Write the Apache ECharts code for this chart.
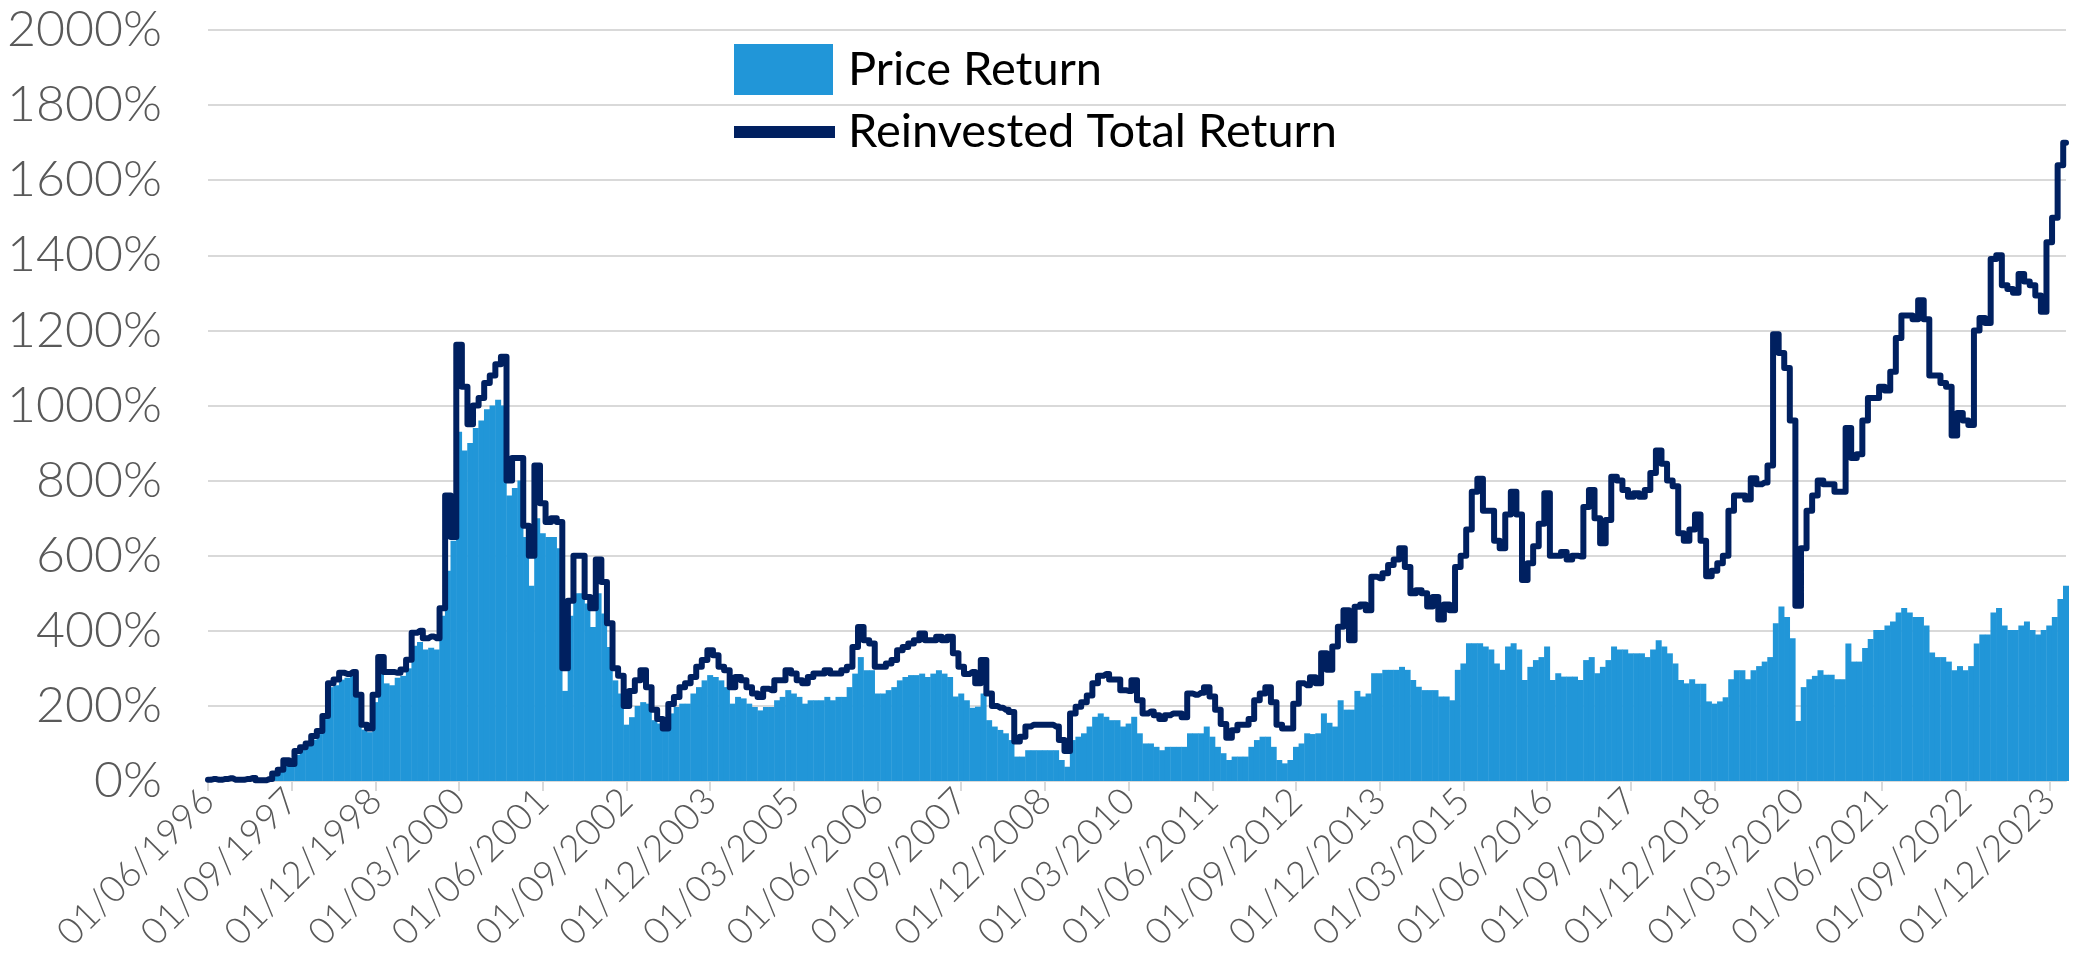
<!DOCTYPE html>
<html>
<head>
<meta charset="utf-8">
<title>Price Return vs Reinvested Total Return</title>
<script src="https://cdn.jsdelivr.net/npm/echarts@6.0.0/dist/echarts.min.js"></script>
<style>
  html, body { margin: 0; padding: 0; background: #ffffff; }
  #chart { width: 2080px; height: 976px; }
</style>
</head>
<body>
<div id="chart"></div>
<script>
// Monthly observations, June 1996 to March 2024 (cumulative return, %)
const startYear = 1996;
const startMonth = 6;
const monthCount = 334;

// Axis labels shown every 15 months
const tickLabels = [
  '01/06/1996', '01/09/1997', '01/12/1998', '01/03/2000', '01/06/2001', '01/09/2002',
  '01/12/2003', '01/03/2005', '01/06/2006', '01/09/2007', '01/12/2008', '01/03/2010',
  '01/06/2011', '01/09/2012', '01/12/2013', '01/03/2015', '01/06/2016', '01/09/2017',
  '01/12/2018', '01/03/2020', '01/06/2021', '01/09/2022', '01/12/2023'
];
const tickStep = 15;

const yTicks = { min: 0, max: 2000, step: 200 };

// Price return, one value per month
const priceReturn = [
  2, 4, 2, 4, 6, 2, 2,                                        // 1996
  4, 6, 1, 1, 4, 15, 25, 45, 40, 70, 85, 95,                  // 1997
  110, 125, 165, 250, 255, 270, 275, 280, 225, 137, 130, 210, // 1998
  300, 260, 255, 275, 280, 300, 360, 370, 350, 355, 350, 440, // 1999
  560, 640, 930, 880, 900, 940, 960, 990, 1000, 1015, 1000, 760, // 2000
  780, 800, 650, 520, 700, 660, 650, 650, 620, 240, 440, 500, // 2001
  500, 473, 410, 500, 446, 357, 268, 233, 150, 170, 200, 210, // 2002
  206, 162, 153, 135, 180, 197, 206, 206, 233, 250, 268, 282, // 2003
  277, 268, 250, 206, 224, 220, 206, 197, 188, 197, 197, 215, // 2004
  224, 242, 233, 224, 206, 215, 215, 215, 224, 215, 224, 224, // 2005
  250, 286, 330, 295, 295, 233, 233, 242, 250, 268, 277, 282, // 2006
  282, 286, 277, 286, 295, 286, 277, 225, 233, 215, 195, 198, // 2007
  233, 162, 145, 136, 127, 109, 65, 65, 82, 82, 82, 82,       // 2008
  82, 82, 56, 38, 109, 118, 127, 145, 171, 180, 171, 162,     // 2009
  162, 145, 153, 171, 127, 100, 100, 91, 82, 91, 91, 91,      // 2010
  91, 127, 127, 127, 145, 118, 91, 74, 56, 65, 65, 65,        // 2011
  91, 109, 118, 118, 91, 56, 47, 56, 91, 100, 127, 125,       // 2012
  127, 180, 155, 145, 215, 190, 190, 240, 225, 233, 287, 287, // 2013
  296, 296, 296, 304, 296, 269, 251, 242, 242, 242, 225, 225, // 2014
  215, 296, 313, 367, 367, 367, 358, 350, 313, 296, 358, 367, // 2015
  350, 269, 304, 322, 330, 358, 269, 287, 278, 278, 278, 269, // 2016
  322, 330, 287, 304, 322, 358, 350, 350, 340, 340, 340, 330, // 2017
  350, 375, 358, 340, 313, 269, 260, 271, 259, 259, 212, 206, // 2018
  212, 223, 271, 295, 295, 271, 295, 306, 318, 330, 420, 465, // 2019
  437, 380, 160, 250, 271, 280, 295, 283, 283, 271, 271, 366, // 2020
  318, 318, 354, 378, 402, 402, 414, 425, 449, 461, 449, 437, // 2021
  437, 414, 342, 330, 330, 318, 295, 306, 295, 306, 366, 390, // 2022
  390, 449, 461, 414, 402, 402, 414, 425, 402, 390, 402, 414, // 2023
  437, 485, 520                                               // 2024
];

// Total return with dividends reinvested, one value per month
const totalReturn = [
  3, 5, 3, 5, 7, 3, 3,                                        // 1996
  5, 8, 2, 2, 5, 20, 30, 55, 45, 80, 90, 100,                 // 1997
  120, 133, 173, 260, 270, 288, 285, 290, 230, 150, 140, 230, // 1998
  330, 290, 290, 288, 297, 323, 395, 400, 380, 385, 380, 460, // 1999
  760, 650, 1162, 1050, 950, 1000, 1020, 1060, 1080, 1110, 1130, 800, // 2000
  860, 860, 680, 600, 840, 740, 690, 700, 690, 300, 480, 600, // 2001
  600, 490, 460, 590, 530, 420, 300, 280, 200, 240, 268, 295, // 2002
  250, 190, 165, 140, 205, 224, 250, 260, 277, 304, 322, 348, // 2003
  335, 304, 295, 250, 277, 268, 250, 233, 224, 246, 242, 268, // 2004
  268, 295, 286, 268, 260, 277, 286, 286, 295, 286, 286, 295, // 2005
  304, 357, 410, 375, 366, 304, 304, 313, 322, 348, 357, 366, // 2006
  375, 393, 375, 375, 384, 375, 384, 340, 304, 285, 290, 260, // 2007
  322, 233, 200, 195, 190, 184, 105, 118, 145, 150, 150, 150, // 2008
  150, 145, 109, 80, 180, 198, 210, 228, 260, 280, 285, 270,  // 2009
  270, 242, 240, 268, 215, 180, 185, 175, 165, 175, 180, 180, // 2010
  170, 233, 230, 235, 250, 225, 190, 152, 115, 135, 150, 150, // 2011
  165, 215, 233, 250, 210, 150, 140, 140, 206, 260, 255, 276, // 2012
  260, 340, 296, 358, 411, 455, 375, 464, 470, 455, 544, 540, // 2013
  553, 575, 590, 620, 570, 500, 508, 500, 465, 490, 430, 470, // 2014
  455, 570, 600, 670, 770, 805, 720, 720, 640, 620, 710, 770, // 2015
  710, 535, 580, 625, 685, 766, 600, 600, 610, 590, 600, 598, // 2016
  730, 775, 700, 633, 695, 810, 800, 775, 757, 766, 757, 775, // 2017
  820, 880, 845, 800, 785, 660, 640, 670, 710, 640, 545, 560, // 2018
  580, 600, 720, 760, 760, 750, 806, 790, 795, 840, 1190, 1140, // 2019
  1100, 960, 467, 620, 720, 760, 800, 790, 790, 770, 770, 940, // 2020
  860, 870, 960, 1020, 1020, 1050, 1040, 1090, 1180, 1240, 1240, 1230, // 2021
  1280, 1230, 1080, 1080, 1060, 1050, 920, 980, 960, 948, 1200, 1233, // 2022
  1220, 1390, 1400, 1320, 1310, 1300, 1350, 1330, 1320, 1293, 1250, 1435, // 2023
  1500, 1640, 1700                                            // 2024
];

// Month categories, dd/mm/yyyy
const months = [];
for (let i = 0; i < monthCount; i++) {
  const m0 = startMonth - 1 + i;
  const y = startYear + Math.floor(m0 / 12);
  const m = (m0 % 12) + 1;
  months.push('01/' + String(m).padStart(2, '0') + '/' + y);
}

const axisFont = 'Lato, "DejaVu Sans", sans-serif';
const gridGrey = '#d9d9d9';

const chart = echarts.init(document.getElementById('chart'), null, { renderer: 'canvas' });

chart.setOption({
  animation: false,
  backgroundColor: '#ffffff',
  grid: { left: 208, right: 14, top: 30, bottom: 195, containLabel: false },
  legend: [
    {
      data: ['Price Return'],
      left: 734, top: 44, padding: 0,
      icon: 'rect', itemWidth: 99, itemHeight: 51,
      selectedMode: false,
      textStyle: { fontFamily: axisFont, fontSize: 47, color: '#000000', lineHeight: 50, padding: [0, 0, 0, 10] }
    },
    {
      data: ['Reinvested Total Return'],
      left: 734, top: 107, padding: 0,
      icon: 'rect', itemWidth: 101, itemHeight: 12,
      selectedMode: false,
      textStyle: { fontFamily: axisFont, fontSize: 47, color: '#000000', lineHeight: 50, padding: [0, 0, 0, 8] }
    }
  ],
  xAxis: {
    type: 'category',
    data: months,
    boundaryGap: false,
    axisLine: { show: true, lineStyle: { color: gridGrey, width: 2 } },
    axisTick: {
      show: true, length: 10,
      interval: (idx) => idx % tickStep === 0,
      lineStyle: { color: gridGrey, width: 2 }
    },
    axisLabel: {
      interval: (idx) => idx % tickStep === 0,
      formatter: (val, idx) => tickLabels[Math.round(idx / tickStep)] || '',
      rotate: 45,
      margin: 14,
      fontFamily: axisFont,
      fontWeight: 300,
      fontSize: 37,
      color: '#595959'
    },
    splitLine: { show: false }
  },
  yAxis: {
    type: 'value',
    min: yTicks.min, max: yTicks.max, interval: yTicks.step,
    axisLine: { show: false },
    axisTick: { show: false },
    axisLabel: {
      formatter: (v) => v + '%',
      margin: 46,
      fontFamily: axisFont,
      fontWeight: 300,
      fontSize: 50,
      color: '#595959'
    },
    splitLine: { show: true, lineStyle: { color: gridGrey, width: 2 } }
  },
  series: [
    {
      name: 'Price Return',
      type: 'bar',
      data: priceReturn,
      barWidth: 6,
      itemStyle: { color: '#2196d8' },
      emphasis: { disabled: true }
    },
    {
      name: 'Reinvested Total Return',
      type: 'line',
      data: totalReturn,
      step: 'middle',
      showSymbol: false,
      symbol: 'none',
      itemStyle: { color: '#002060' },
      lineStyle: { color: '#002060', width: 6, cap: 'round', join: 'round' },
      emphasis: { disabled: true },
      z: 3
    }
  ]
});
</script>
</body>
</html>
